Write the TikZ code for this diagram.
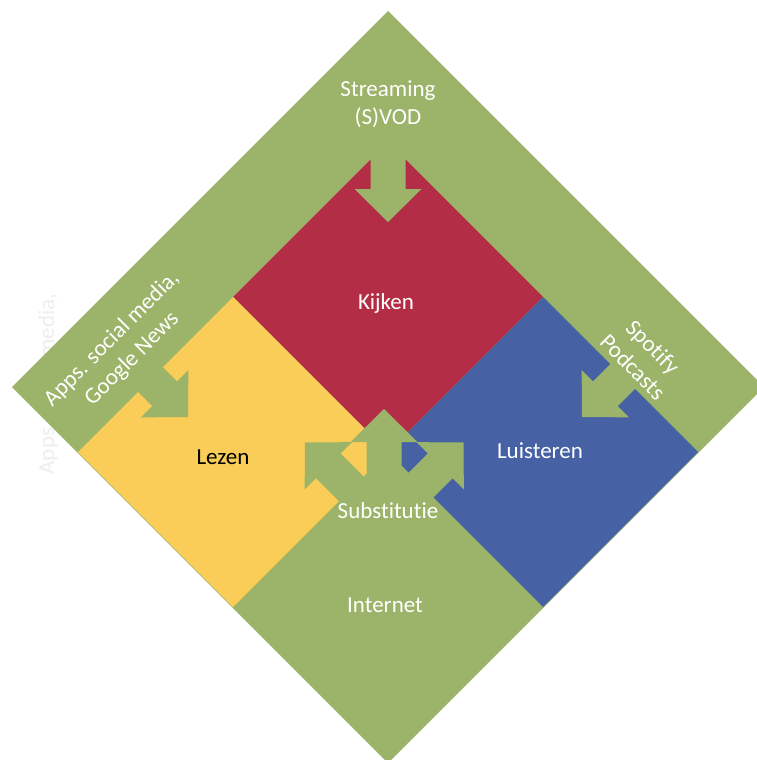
\documentclass[tikz,border=0pt]{standalone}
\usepackage{fontspec}
\setmainfont{Carlito}[Ligatures=NoCommon]
\definecolor{bandgreen}{HTML}{9CB469}
\definecolor{kijkred}{HTML}{B42D46}
\definecolor{leesyellow}{HTML}{F9CD58}
\definecolor{luisterblue}{HTML}{4662A5}
\definecolor{ghostgray}{HTML}{EEEEEE}
% block arrow: tip at the origin, pointing down; #1 = total length
\tikzset{
  pics/blockarrow/.style={code={
    \fill[bandgreen] (-17.5,-#1) -- (17.5,-#1) -- (17.5,-33) -- (33.5,-33)
      -- (0,0) -- (-33.5,-33) -- (-17.5,-33) -- cycle;}},
  lbl/.style={font=\fontsize{23}{28.5}\selectfont, text=white, align=center, inner sep=0pt}
}
\begin{document}
\begin{tikzpicture}[x=1pt,y=-1pt]
\useasboundingbox (0,0) rectangle (757,760);
\clip (0,0) rectangle (757,760);
\fill[white] (0,0) rectangle (757,760);

% faint text behind the outer square
\node[lbl, text=ghostgray, rotate=90] (ghost) at (48,384) {Apps. social media,};

% outer square
\fill[bandgreen] (388,11) -- (764,387) -- (388,763) -- (12,387) -- cycle;

% inner squares
\fill[kijkred] (388,142) -- (543,297) -- (388,452) -- (233,297) -- cycle;
\fill[leesyellow] (233,297) -- (388,452) -- (233,607) -- (78,452) -- cycle;
\fill[luisterblue] (543,297) -- (698,452) -- (543,607) -- (388,452) -- cycle;

% incoming arrows
\path (388,222) pic {blockarrow=112};
\path (188,417) pic[rotate=45] {blockarrow=60};
\path (582,417) pic[rotate=-45] {blockarrow=60};

% substitution arrow (up, up-left, up-right)
\path (384,409) pic[rotate=180] {blockarrow=110};
\path (305,442.5) pic[rotate=225] {blockarrow=90};
\path (463.5,442.5) pic[rotate=135] {blockarrow=90};

% labels
\node[lbl] (streaming) at (388,104) {Streaming\\(S)VOD};
\node[lbl] (kijken) at (386,303) {Kijken};
\node[lbl, text=black] (lezen) at (223,457) {Lezen};
\node[lbl] (luisteren) at (540,451) {Luisteren};
\node[lbl] (subst) at (388,511) {Substitutie};
\node[lbl] (internet) at (385,605) {Internet};
\node[lbl, rotate=45] (apps) at (122,349) {Apps. social media,\\Google News};
\node[lbl, rotate=-45] (spotify) at (643,357) {Spotify\\Podcasts};
\end{tikzpicture}
\end{document}
